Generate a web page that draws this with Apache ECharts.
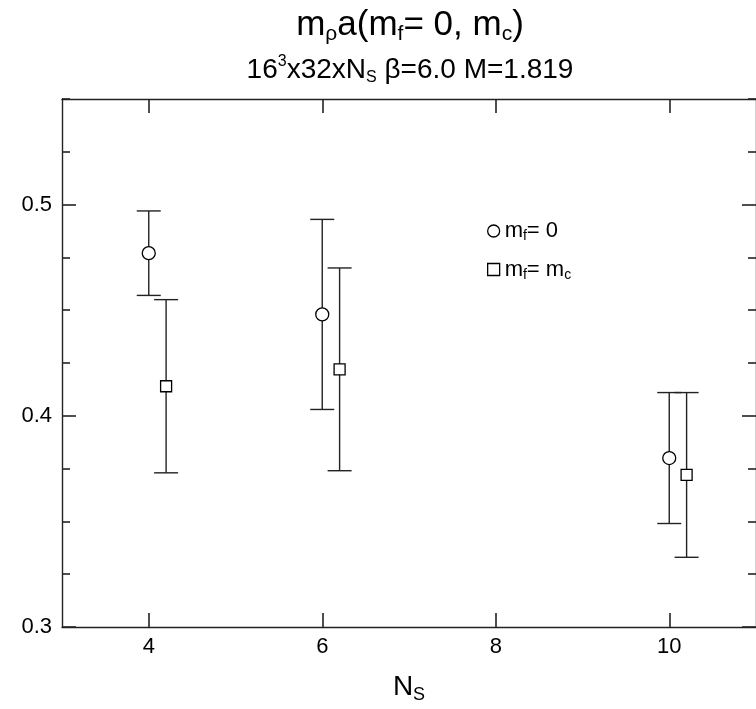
<!DOCTYPE html>
<html><head><meta charset="utf-8">
<script src="https://cdn.jsdelivr.net/npm/echarts@6/dist/echarts.min.js"></script>
<style>html,body{margin:0;padding:0;background:#fff}#c{width:756px;height:709px}</style>
</head><body><div id="c"></div>
<script>
const xTickValues = [4, 6, 8, 10];
const yMajorValues = [0.3, 0.4, 0.5];
const yMinorValues = [0.325, 0.35, 0.375, 0.425, 0.45, 0.475, 0.525, 0.55];
const nsM0 = [4, 6, 10];
const mrhoM0 = [0.477, 0.448, 0.380];
const errM0 = [0.020, 0.045, 0.031];
const nsMc = [4.2, 6.2, 10.2];
const mrhoMc = [0.414, 0.422, 0.372];
const errMc = [0.041, 0.048, 0.039];

const FONT = 'Liberation Sans, Arial, sans-serif';
const INK = '#222';
const dM0 = nsM0.map((x, i) => [x, mrhoM0[i], errM0[i]]);
const dMc = nsMc.map((x, i) => [x, mrhoMc[i], errMc[i]]);

function errRender(params, api) {
  const x = api.value(0), y = api.value(1), e = api.value(2);
  const t = api.coord([x, y + e]);
  const b = api.coord([x, y - e]);
  const hw = 12;
  const st = { stroke: INK, lineWidth: 1.4 };
  return { type: 'group', children: [
    { type: 'line', shape: { x1: t[0], y1: t[1], x2: b[0], y2: b[1] }, style: st },
    { type: 'line', shape: { x1: t[0] - hw, y1: t[1], x2: t[0] + hw, y2: t[1] }, style: st },
    { type: 'line', shape: { x1: b[0] - hw, y1: b[1], x2: b[0] + hw, y2: b[1] }, style: st }
  ]};
}

const labelRich = { v: { fontSize: 22, fontFamily: FONT, color: '#000' } };

function xAx(pos, labels) {
  return {
    type: 'value', min: 3, max: 11, position: pos,
    axisLine: { show: true, onZero: false, lineStyle: { color: INK, width: 1.4 } },
    axisTick: { show: true, inside: true, length: 14, customValues: xTickValues, lineStyle: { color: INK, width: 1.6 } },
    axisLabel: { show: labels, customValues: xTickValues, fontSize: 22, color: '#000', fontFamily: FONT, margin: 9,
      formatter: v => '{v|' + v + '}', rich: labelRich },
    splitLine: { show: false },
    name: labels ? 'N{s|S}' : '', nameLocation: 'middle', nameGap: 44,
    nameTextStyle: { fontSize: 28, color: '#000', fontFamily: FONT,
      rich: { s: { fontSize: 18, fontFamily: FONT, color: '#000', verticalAlign: 'bottom', padding: [15, 0, 0, 0] } } }
  };
}
function yAx(pos, major) {
  return {
    type: 'value', min: 0.3, max: 0.55, position: pos,
    axisLine: { show: major, onZero: false, lineStyle: { color: INK, width: 1.4 } },
    axisTick: { show: true, inside: true, length: major ? 14 : 8, customValues: major ? yMajorValues : yMinorValues, lineStyle: { color: INK, width: 1.6 } },
    axisLabel: { show: major && pos === 'left', customValues: yMajorValues, fontSize: 22, color: '#000', fontFamily: FONT, margin: 10,
      formatter: v => '{v|' + v.toFixed(1) + '}', rich: labelRich },
    splitLine: { show: false }
  };
}

const chart = echarts.init(document.getElementById('c'));
chart.setOption({
  animation: false,
  backgroundColor: '#fff',
  title: [
    { text: '{a|m}{s|ρ}{a|a(m}{s|f}{a|= 0, m}{s|c}{a|)}', left: 405, top: 0, textAlign: 'center',
      textStyle: { fontWeight: 'normal', rich: {
        a: { fontSize: 35, fontFamily: FONT, color: '#000', fontWeight: 'normal' },
        s: { fontSize: 21, fontFamily: FONT, color: '#000', fontWeight: 'normal', verticalAlign: 'bottom', padding: [19, 0, 0, 0] } } } },
    { text: '{a|16}{p|3}{a|x32xN}{s|S}{a| β=6.0 M=1.819}', left: 405, top: 49, textAlign: 'center',
      textStyle: { fontWeight: 'normal', rich: {
        a: { fontSize: 28, fontFamily: FONT, color: '#000', fontWeight: 'normal' },
        p: { fontSize: 16, fontFamily: FONT, color: '#000', fontWeight: 'normal', verticalAlign: 'top', padding: [0, 0, 16, 0] },
        s: { fontSize: 16, fontFamily: FONT, color: '#000', fontWeight: 'normal', verticalAlign: 'bottom', padding: [15, 0, 0, 0] } } } }
  ],
  legend: {
    orient: 'vertical', left: 482, top: 215, itemGap: 15, itemWidth: 12, itemHeight: 12,
    selectedMode: false,
    data: [
      { name: 'm0', icon: 'circle', itemStyle: { color: '#fff', borderColor: '#000', borderWidth: 1.3 } },
      { name: 'mc', icon: 'rect', itemStyle: { color: '#fff', borderColor: '#000', borderWidth: 1.3 } }
    ],
    formatter: n => n === 'm0' ? '{a|m}{s|f}{a|= 0}' : '{a|m}{s|f}{a|= m}{s|c}',
    textStyle: { rich: {
      a: { fontSize: 22, fontFamily: FONT, color: '#000' },
      s: { fontSize: 14, fontFamily: FONT, color: '#000', verticalAlign: 'bottom', padding: [11, 0, 0, 0] } } }
  },
  grid: { left: 62, top: 99, width: 699, height: 530, containLabel: false },
  xAxis: [xAx('bottom', true), xAx('top', false)],
  yAxis: [yAx('left', true), yAx('left', false), yAx('right', true), yAx('right', false)],
  series: [
    { type: 'custom', name: 'errM0', renderItem: errRender, data: dM0, z: 2, encode: { x: 0, y: 1 } },
    { type: 'custom', name: 'errMc', renderItem: errRender, data: dMc, z: 2, encode: { x: 0, y: 1 } },
    { type: 'scatter', name: 'm0', data: dM0, symbol: 'circle', symbolSize: 13, z: 5,
      itemStyle: { color: '#fff', borderColor: '#000', borderWidth: 1.3, opacity: 1 } },
    { type: 'scatter', name: 'mc', data: dMc, symbol: 'rect', symbolSize: 11, z: 5,
      itemStyle: { color: '#fff', borderColor: '#000', borderWidth: 1.3, opacity: 1 } }
  ]
});
</script></body></html>
